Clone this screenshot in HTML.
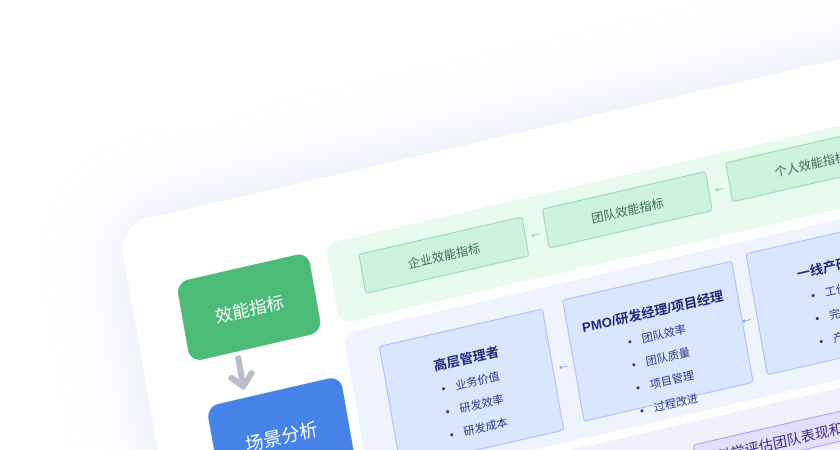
<!DOCTYPE html>
<html><head><meta charset="utf-8"><style>
html,body{margin:0;padding:0;width:840px;height:450px;overflow:hidden;background:#fff;font-family:"Liberation Sans","Noto Sans CJK SC",sans-serif;}
#clip{position:relative;width:840px;height:450px;overflow:hidden;background:#fff;}
#w{position:absolute;left:118px;top:225px;width:1000px;height:600px;transform-origin:0 0;transform:matrix(1,-0.23,0.177,1,0,0);}
.card{position:absolute;left:0;top:0;width:1000px;height:600px;background:#fff;border-radius:30px;box-shadow:0 0 70px 10px rgba(170,185,230,.28);}
.abs{position:absolute;box-sizing:border-box;}
.main{border-radius:12px;color:#fff;font-size:17px;display:flex;align-items:center;justify-content:center;}
.gp{background:#e8fbee;border-radius:12px;}
.gb{background:#cdf3dc;border:1px solid #93dcae;border-radius:3px;color:#3b6e50;font-size:12px;display:flex;align-items:center;justify-content:center;}
.bp{background:#eef3fe;border-radius:12px;}
.bb{background:#dae6fe;border:1px solid #a8c2f8;border-radius:3px;color:#2a3a8a;font-size:11px;text-align:center;}
.bb b{display:block;font-size:13px;font-weight:bold;color:#1e2a78;margin-top:20px;margin-bottom:6px;}
.bb div{margin:7px 0;}
.bb div:before{content:"•";margin-right:10px;}
.pp{background:#f3f0fe;border-radius:12px;}
.pb{background:#e4defc;border:1px solid #a99ef0;border-radius:3px;color:#3a2f8a;font-size:14px;padding:6px 20px;}
.ga{color:#5fc77f;font-size:14px;font-weight:bold;}
.ba{color:#5b8ef0;font-size:14px;font-weight:bold;}
</style></head><body>
<div id="clip">
<div id="w">
<div class="card"></div>
<div class="abs main" style="left:46px;top:68px;width:132px;height:80px;background:#4dbb78;">效能指标</div>
<div class="abs" style="left:78px;top:152px;width:30px;height:36px;">
<svg width="30" height="36"><path d="M15 2 L15 30 M5 20 L15 31 L25 20" stroke="#b9bec9" stroke-width="6" fill="none" stroke-linecap="round" stroke-linejoin="round"/></svg></div>
<div class="abs main" style="left:54px;top:194px;width:134px;height:90px;background:#4683e8;font-size:18px;">场景分析</div>

<div class="abs gp" style="left:196px;top:64px;width:800px;height:80px;"></div>
<div class="abs gb" style="left:226px;top:81px;width:164px;height:40px;">企业效能指标</div>
<div class="abs ga" style="left:393px;top:91px;">←</div>
<div class="abs gb" style="left:410px;top:78px;width:164px;height:40px;">团队效能指标</div>
<div class="abs ga" style="left:577px;top:88px;">←</div>
<div class="abs gb" style="left:594px;top:74px;width:164px;height:40px;">个人效能指标</div>

<div class="abs bp" style="left:198px;top:154px;width:800px;height:154px;"></div>
<div class="abs bb" style="left:230px;top:174px;width:164px;height:122px;"><b>高层管理者</b><div>业务价值</div><div>研发效率</div><div>研发成本</div></div>
<div class="abs ba" style="left:397px;top:224px;">←</div>
<div class="abs bb" style="left:414px;top:170px;width:170px;height:122px;"><b>PMO/研发经理/项目经理</b><div>团队效率</div><div>团队质量</div><div>项目管理</div><div>过程改进</div></div>
<div class="abs ba" style="left:581px;top:220px;">←</div>
<div class="abs bb" style="left:598px;top:166px;width:170px;height:122px;"><b>一线产研人员</b><div>工作效率</div><div>完成质量</div><div>产出价值</div></div>

<div class="abs pp" style="left:200px;top:316px;width:800px;height:120px;"></div>
<div class="abs pb" style="left:515px;top:338px;width:330px;height:30px;">科学评估团队表现和研发产出</div>
</div>
</div>
</body></html>
